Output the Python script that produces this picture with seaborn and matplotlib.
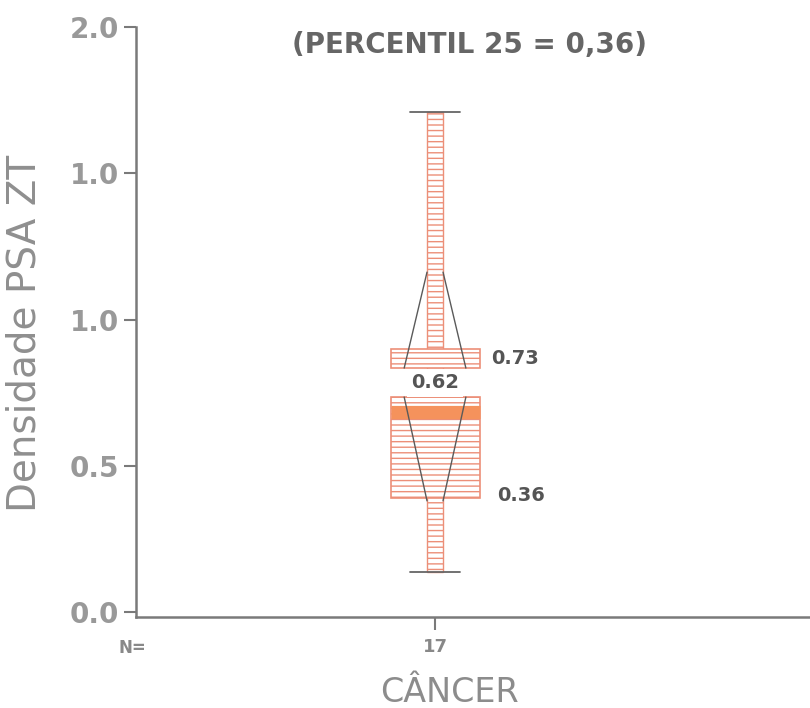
import numpy as np
import pandas as pd
import matplotlib
matplotlib.use("Agg")
import matplotlib.pyplot as plt
import seaborn as sns

# ---- data ----
group = "CÂNCER"
# 17 observations: min 0.137, Q1 0.39, median 0.685, Q3 0.735, max 1.709
values = [0.137, 0.21, 0.27, 0.33, 0.39, 0.47, 0.55, 0.63, 0.685,
          0.69, 0.70, 0.72, 0.735, 0.78, 0.87, 1.16, 1.709]
upper_band = [0.834, 0.899]          # small hatched block above the box
upper_notch = [0.834, 1.162]         # upper trapezoid (wide -> narrow)
lower_notch = [0.735, 0.38]          # lower trapezoid (wide -> narrow)
stat_labels = ["0.73", "0.62", "0.36"]
ytick_values = [0.0, 0.5, 1.0, 1.5, 2.0]
ytick_labels = ["0.0", "0.5", "1.0", "1.0", "2.0"]
title_text = "(PERCENTIL 25 = 0,36)"
ylabel_text = "Densidade PSA ZT"

df = pd.DataFrame({"grupo": [group] * len(values), "valor": values})

sns.set_style("ticks")
plt.rcParams["font.family"] = ["DejaVu Sans"]
plt.rcParams["hatch.linewidth"] = 1.0
salmon = "#ec8f78"
plt.rcParams["hatch.color"] = salmon
axis_grey = "#7a7a7a"

fig = plt.figure(figsize=(8.1, 7.08), dpi=100)
ax = fig.add_axes([136 / 810, (708 - 617) / 708, (810 - 136) / 810, (617 - 27) / 708])

box_w = 0.15
col_w = 0.027
sns.boxplot(data=df, x="grupo", y="valor", ax=ax, width=box_w, whis=(0, 100),
            color="white", saturation=1, linecolor=salmon, linewidth=1.2,
            capwidths=0.084,
            medianprops={"color": "#f5925c", "linewidth": 9.5, "solid_capstyle": "butt",
                         "zorder": 3},
            whiskerprops={"visible": False},
            capprops={"color": "#666666", "linewidth": 1.3})
for p in ax.patches:
    p.set_hatch("---")
    p.set_edgecolor(salmon)
    p.set_zorder(2)

vmin, vmax = min(values), max(values)
# narrow hatched whisker column
ax.bar(0, vmax - vmin, bottom=vmin, width=col_w, color="white", edgecolor=salmon,
       hatch="---", linewidth=1.0, zorder=1.5)
# upper block
ax.bar(0, upper_band[1] - upper_band[0], bottom=upper_band[0], width=box_w,
       color="white", edgecolor=salmon, hatch="---", linewidth=1.2, zorder=2.5)

# notch lines
wide, narrow = 0.052, col_w / 2
for lo, hi in ([upper_notch[0], upper_notch[1]], [lower_notch[0], lower_notch[1]]):
    for s in (-1, 1):
        ax.plot([s * wide, s * narrow], [lo, hi], color="#5a5a5a", lw=1.0, zorder=4)

# statistic labels
lab_kw = dict(fontsize=14, fontweight="bold", color="#555555", va="center", zorder=5)
ax.text(0.095, (upper_band[0] + upper_band[1]) / 2, stat_labels[0], ha="left", **lab_kw)
ax.text(0.0, 0.783, stat_labels[1], ha="center",
        bbox=dict(facecolor="white", edgecolor="none", pad=3), **lab_kw)
ax.text(0.105, 0.40, stat_labels[2], ha="left", **lab_kw)

# axes formatting
ax.set_xlim(-0.504, 0.632)
ax.set_ylim(-0.017, 2.0)
ax.set_yticks(ytick_values)
ax.set_yticklabels(ytick_labels)
ax.set_xticks([0])
ax.set_xticklabels([str(len(values))])
ax.tick_params(axis="y", labelsize=20, labelcolor="#999999", color=axis_grey,
               length=9, width=1.5, pad=3)
ax.tick_params(axis="x", labelsize=13, labelcolor="#888888", color=axis_grey,
               length=9, width=1.5, pad=6)
for lbl in ax.get_yticklabels() + ax.get_xticklabels():
    lbl.set_fontweight("bold")
for side in ("top", "right"):
    ax.spines[side].set_visible(False)
for side in ("left", "bottom"):
    ax.spines[side].set_color(axis_grey)
    ax.spines[side].set_linewidth(1.8)

ax.set_xlabel("CÂNCER", fontsize=24, color="#8c8c8c")
ax.xaxis.set_label_coords((450 - 136) / 674, -(693 - 617) / 590)
ax.xaxis.label.set_va("center")
ax.set_ylabel(ylabel_text, fontsize=28, color="#8f8f8f")
ax.yaxis.set_label_coords((25 - 136) / 674, (617 - 333) / 590)
ax.yaxis.label.set_va("center")

ax.text((470 - 136) / 674, (617 - 45) / 590, title_text, transform=ax.transAxes,
        ha="center", va="center", fontsize=20, fontweight="bold", color="#666666")
fig.text(118 / 810, 1 - 648 / 708, "N=", ha="left", va="center", fontsize=12,
         fontweight="bold", color="#888888")

fig.savefig("out.png", dpi=100)
